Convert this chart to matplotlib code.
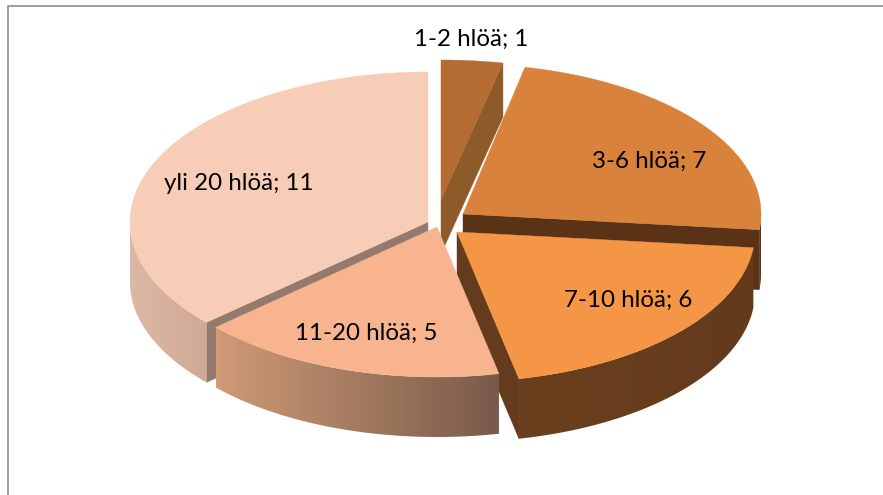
import numpy as np
import matplotlib
matplotlib.use('Agg')
import matplotlib.pyplot as plt
from matplotlib.colors import LinearSegmentedColormap
from matplotlib.patches import Polygon

categories = ['1-2 hlöä', '3-6 hlöä', '7-10 hlöä', '11-20 hlöä', 'yli 20 hlöä']
values = [1, 7, 6, 5, 11]

top_colors = ['#b46c32', '#d9823c', '#f59647', '#f8b48e', '#f8cdb7']
cut_colors = ['#8f5a2a', '#5a3316', '#643b1c', '#643b1c', '#937a6c']
wall_left = ['#8f5a2a', '#5a3316', '#6a401e', '#cf9a76', '#dcb8a6']
wall_right = ['#8f5a2a', '#5a3316', '#633a1c', '#785a4a', '#d0a995']

# pie geometry in pixels, each slice has its own apex because of the explode
apex_x = [441, 463, 457, 437, 428]
apex_y = [200, 214, 232, 227, 222]
radius_x = 298
radius_y = [140, 150, 150, 150, 150]
depth = [54, 60, 60, 60, 60]
draw_order = [0, 1, 2, 4, 3]

label_x = [471, 649, 628, 366, 239]
label_y = [39, 161, 300, 333, 184]

plt.rcParams['font.family'] = ['Lato', 'DejaVu Sans']

fig = plt.figure(figsize=(8.83, 4.95), dpi=100)
ax = fig.add_axes([0, 0, 1, 1])

edges = np.cumsum([0] + values) / sum(values) * 360


def rim(i, a, b, n=80):
    t = np.radians(np.linspace(a, b, n))
    return np.column_stack([apex_x[i] + radius_x * np.sin(t), apex_y[i] - radius_y[i] * np.cos(t)])


for rank, i in enumerate(draw_order):
    a, b = edges[i], edges[i + 1]
    apex = np.array([apex_x[i], apex_y[i]])
    down = np.array([0, depth[i]])
    z = 2 + rank

    # flat cut faces, only those turned towards the viewer
    for ang, seen in ((a, np.sin(np.radians(a)) < -1e-6), (b, np.sin(np.radians(b)) > 1e-6)):
        if seen:
            p = rim(i, ang, ang, 1)[0]
            ax.add_patch(Polygon([apex, p, p + down, apex + down], fc=cut_colors[i], ec=cut_colors[i], lw=0.3, zorder=z))

    # curved outer wall, front half of the ellipse only
    lo, hi = max(a, 90), min(b, 270)
    if lo < hi:
        curve = rim(i, lo, hi)
        wall = Polygon(np.vstack([curve, (curve + down)[::-1]]), fc='none', ec='none', zorder=z)
        ax.add_patch(wall)
        cmap = LinearSegmentedColormap.from_list('w', [wall_left[i], wall_right[i]])
        x0, x1 = curve[:, 0].min(), curve[:, 0].max()
        y0, y1 = curve[:, 1].min(), curve[:, 1].max() + depth[i]
        ax.imshow(np.linspace(0, 1, 256)[None, :], cmap=cmap, extent=[x0, x1, y1, y0],
                  aspect='auto', clip_path=wall, zorder=z + 0.1)

    ax.add_patch(Polygon(np.vstack([apex, rim(i, a, b)]), fc=top_colors[i], ec=top_colors[i], lw=0.3, zorder=z + 0.2))

ax.set_xlim(0, 883)
ax.set_ylim(495, 0)
ax.axis('off')

for cat, val, x, y in zip(categories, values, label_x, label_y):
    ax.text(x, y, f'{cat}; {val}', ha='center', va='center', fontsize=17.4, color='black', zorder=10)

ax.plot([8, 8, 883], [495, 6, 6], color='#8c8c8c', lw=1.2, zorder=9, clip_on=False)

fig.savefig('out.png', dpi=100)
